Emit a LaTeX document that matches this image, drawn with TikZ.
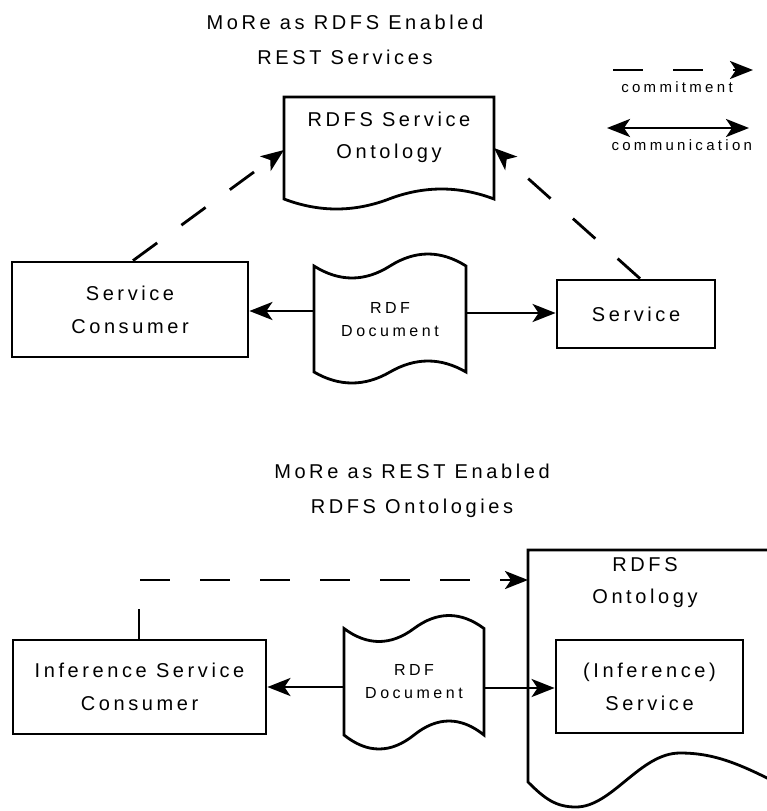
\documentclass[tikz,border=0pt]{standalone}
\usepackage{fontspec}
\usetikzlibrary{arrows.meta}
\newfontfamily\bigf{Liberation Sans}[LetterSpace=18]
\newfontfamily\smallf{Liberation Sans}[LetterSpace=22]
% wave from (#1,#3) to (#2,#3): dip (down) on the left half, peak on the right half, amplitude #4
\newcommand\wvlr[4]{ .. controls ({#1+(#2-#1)/6},{#3+4*#4/3}) and ({#1+(#2-#1)/3},{#3+4*#4/3}) .. ({(#1+#2)/2},#3) .. controls ({#1+2*(#2-#1)/3},{#3-4*#4/3}) and ({#1+5*(#2-#1)/6},{#3-4*#4/3}) .. (#2,#3)}
% same wave, drawn from right to left
\newcommand\wvrl[4]{ .. controls ({#2-(#2-#1)/6},{#3-4*#4/3}) and ({#2-(#2-#1)/3},{#3-4*#4/3}) .. ({(#1+#2)/2},#3) .. controls ({#1+(#2-#1)/3},{#3+4*#4/3}) and ({#1+(#2-#1)/6},{#3+4*#4/3}) .. (#1,#3)}
\tikzset{
  lw/.style={line width=2.8pt},
  boxnode/.style={draw, lw, align=center, font=\bigf\fontsize{20}{33}\selectfont},
  docshape/.style={draw, lw, line join=miter},
  docnode/.style={align=center, inner sep=0pt, outer sep=0pt},
  titlenode/.style={align=center, font=\bigf\fontsize{20}{35}\selectfont},
  legtext/.style={font=\smallf\fontsize{15}{18}\selectfont},
  comm/.style={lw, -{Stealth[length=23pt,width=18pt,inset=6pt]}},
  commboth/.style={lw, {Stealth[length=23pt,width=18pt,inset=6pt]}-{Stealth[length=23pt,width=18pt,inset=6pt]}},
  commit/.style={lw, dash pattern=on 30pt off 30pt, -{Stealth[length=23pt,width=18pt,inset=6pt]}},
}
\begin{document}
\begin{tikzpicture}[x=1pt,y=-1pt]
\useasboundingbox (0,0) rectangle (767,811);
\clip (0,0) rectangle (767,811);

% ---------- titles ----------
\node[titlenode] (t1) at (345,40) {MoRe as RDFS Enabled\\REST Services};
\node[titlenode] (t2) at (412,491) {MoRe as REST Enabled\\RDFS Ontologies};

% ---------- legend ----------
\coordinate (lc1) at (613,70);
\coordinate (lc2) at (753,70);
\draw[commit] (lc1) -- (lc2);
\node[legtext] (lct) at (677,87) {commitment};
\coordinate (lm1) at (607,128);
\coordinate (lm2) at (749,128);
\draw[commboth] (lm1) -- (lm2);
\node[legtext, anchor=west] (lmt) at (608,145) {communication};

% ---------- upper diagram ----------
\node[boxnode, minimum width=236, minimum height=95] (sc) at (130,309.5) {Service\\Consumer};
\node[boxnode, minimum width=158, minimum height=68] (svc) at (636,314) {Service};

% RDFS Service Ontology document
\draw[docshape] (284,97) -- (494,97) -- (494,199) \wvrl{284}{494}{199}{10} -- cycle;
\node[docnode, minimum width=210, minimum height=102] (so) at (389,148) {};
\node[docnode, font=\bigf\fontsize{20}{32}\selectfont] (sot) at (389,137) {RDFS Service\\Ontology};

% RDF Document (upper)
\draw[docshape] (314,266) \wvlr{314}{466}{266}{12} -- (466,372) \wvrl{314}{466}{372}{11} -- cycle;
\node[docnode, minimum width=152, minimum height=90, font=\smallf\fontsize{16}{23}\selectfont] (rdf1) at (390,320) {RDF\\Document};

\draw[comm] (rdf1.west |- 0,311) -- (sc.east |- 0,311);
\draw[comm] (rdf1.east |- 0,313) -- (svc.west |- 0,313);
\draw[commit] (sc.north -| 133,0) -- (so.west |- 0,150);
\draw[commit] (svc.north -| 640,0) -- (so.east |- 0,148);

% ---------- lower diagram ----------
\node[boxnode, minimum width=253, minimum height=94] (isc) at (139.5,687) {Inference Service\\Consumer};

% RDFS Ontology document (cut by the right edge)
\draw[docshape] (528,782) .. controls (545,799) and (556,807) .. (576,807)
   .. controls (612,807) and (640,753) .. (680,753)
   .. controls (718,753) and (745,766) .. (800,795) -- (800,550) -- (528,550) -- cycle;
\node[docnode, minimum width=272, minimum height=232, anchor=north west] (onto) at (528,550) {};
\node[docnode, font=\bigf\fontsize{20}{32}\selectfont] (ontot) at (645,583) {RDFS\\Ontology};
\node[boxnode, minimum width=187, minimum height=93] (isvc) at (649.5,686.5) {(Inference)\\Service};

% RDF Document (lower)
\draw[docshape] (344,628.5) \wvlr{344}{484}{628.5}{13} -- (484,735) \wvrl{344}{484}{735}{14} -- cycle;
\node[docnode, minimum width=140, minimum height=100, font=\smallf\fontsize{16}{23}\selectfont] (rdf2) at (414,682) {RDF\\Document};

\draw[comm] (rdf2.west |- 0,687) -- (isc.east |- 0,687);
\draw[comm] (rdf2.east |- 0,688) -- (isvc.west |- 0,688);
\draw[commit] (isc.north -| 139,0) |- (onto.west |- 0,580);
\end{tikzpicture}
\end{document}
